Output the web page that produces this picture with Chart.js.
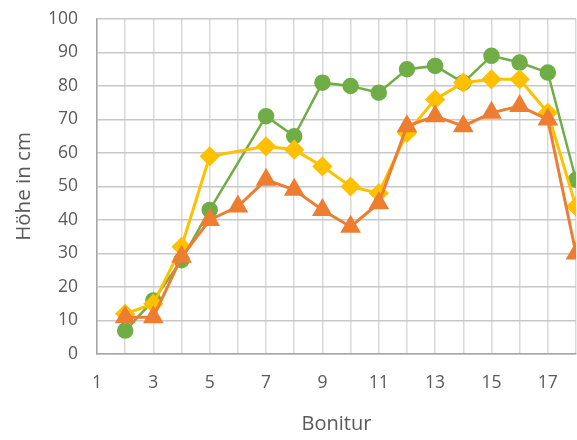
<!DOCTYPE html>
<html>
<head>
<meta charset="utf-8">
<script src="https://cdn.jsdelivr.net/npm/chart.js@4/dist/chart.umd.min.js"></script>
<style>
  html, body { margin: 0; padding: 0; background: #fff; overflow: hidden; }
  #wrap { position: relative; width: 577px; height: 440px; }
</style>
</head>
<body>
<div id="wrap"><canvas id="chart"></canvas></div>
<script>
// Bonitur (x) and plant height in cm for the three series
const bonitur = [2, 3, 4, 5, 6, 7, 8, 9, 10, 11, 12, 13, 14, 15, 16, 17, 18];
const greenSeries = [7, 16, 28, 43, null, 71, 65, 81, 80, 78, 85, 86, 81, 89, 87, 84, 52];
const yellowSeries = [12, 15, 32, 59, null, 62, 61, 56, 50, 48, 66, 76, 81, 82, 82, 72, 44];
const orangeSeries = [11, 11, 29, 40, 44, 52, 49, 43, 38, 45, 68, 71, 68, 72, 74, 70, 30];

const toPoints = (vals) => bonitur.map((b, i) => ({ x: b, y: vals[i] }));

const textColor = "#595959";
const fontFamily = "'Open Sans', 'Noto Sans', sans-serif";
const tickFont = { family: fontFamily, size: 17.5 };

// drop the extra room Chart.js keeps for half tick labels at the ends
const noEdgePadding = (axis) => {
  axis.paddingTop = 0;
  axis.paddingBottom = 0;
  axis.paddingLeft = 0;
  axis.paddingRight = 0;
};

new Chart(document.getElementById("chart").getContext("2d"), {
  type: "line",
  data: {
    datasets: [
      {
        label: "Serie 1",
        data: toPoints(greenSeries),
        borderColor: "#70AD47",
        backgroundColor: "#70AD47",
        borderWidth: 2.5,
        pointStyle: "circle",
        pointRadius: 7,
        spanGaps: true,
        order: 3,
      },
      {
        label: "Serie 2",
        data: toPoints(yellowSeries),
        borderColor: "#FFC000",
        backgroundColor: "#FFC000",
        borderWidth: 3,
        pointStyle: "rectRot",
        pointRadius: 8,
        spanGaps: true,
        order: 2,
      },
      {
        label: "Serie 3",
        data: toPoints(orangeSeries),
        borderColor: "#ED7D31",
        backgroundColor: "#ED7D31",
        borderWidth: 3,
        pointStyle: "triangle",
        pointRadius: 9,
        spanGaps: true,
        order: 1,
      },
    ],
  },
  options: {
    responsive: true,
    maintainAspectRatio: false,
    animation: false,
    layout: {
      autoPadding: false,
      padding: { top: 19, right: 1, left: 0, bottom: 0 },
    },
    plugins: {
      legend: { display: false },
      tooltip: { enabled: false },
    },
    scales: {
      x: {
        type: "linear",
        min: 1,
        max: 18,
        ticks: {
          stepSize: 1,
          autoSkip: false,
          maxRotation: 0,
          color: textColor,
          font: tickFont,
          padding: 19,
          callback: (v) => (v % 2 === 1 ? v : ""),
        },
        grid: { color: "#d9d9d9", lineWidth: 1.5, drawTicks: false },
        border: { color: "#a6a6a6", width: 1.5 },
        title: {
          display: true,
          text: "Bonitur",
          color: textColor,
          font: { family: fontFamily, size: 20 },
          padding: { top: 8 },
        },
        afterFit: (axis) => { axis.height = 86; noEdgePadding(axis); },
      },
      y: {
        min: 0,
        max: 100,
        ticks: {
          stepSize: 10,
          color: textColor,
          font: tickFont,
          padding: 19,
        },
        grid: { color: "#c8c8c8", lineWidth: 1.5, drawTicks: false },
        border: { color: "#a6a6a6", width: 1.5 },
        title: {
          display: true,
          text: "Höhe in cm",
          color: textColor,
          font: { family: fontFamily, size: 20.5 },
          padding: { top: 12, bottom: 0 },
        },
        afterFit: (axis) => { axis.width = 97; noEdgePadding(axis); },
      },
    },
  },
});
</script>
</body>
</html>
